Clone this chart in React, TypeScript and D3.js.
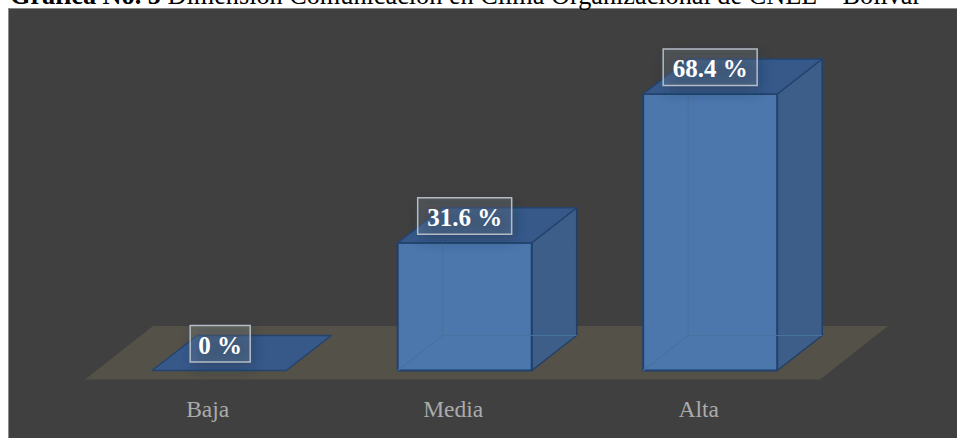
import React from "react";
import * as d3 from "d3";

const categories = ["Baja", "Media", "Alta"];
const values = [0, 31.6, 68.4];
const valueLabels = ["0 %", "31.6 %", "68.4 %"];
const titleBold = "Gráfica No. 5";
const titleRest = " Dimensión Comunicación en Clima Organizacional de CNEL – Bolívar";

const W = 957;
const H = 438;
const DEPTH_X = 45;
const DEPTH_Y = -35;
const FLOOR_Y = 370.5;

// Band positions of the bar fronts along the floor.
const x = d3.scaleBand<string>().domain(categories).range([54, 875.4]).paddingInner(0.454).paddingOuter(0.4);
const y = d3.scaleLinear().domain([0, 68.4]).range([FLOOR_Y, 94]);

const poly = d3.line<[number, number]>().curve(d3.curveLinearClosed);

export default function App() {
  const floor: [number, number][] = [[85, 379.5], [820, 379.5], [888, 326], [153, 326]];
  return (
    <svg width={W} height={H} viewBox={`0 0 ${W} ${H}`} style={{ position: "absolute", left: 0, top: 0, display: "block" }}>
      <defs>
        <filter id="labelShadow" x="-40%" y="-60%" width="180%" height="220%">
          <feGaussianBlur stdDeviation="7" />
        </filter>
      </defs>
      <rect width={W} height={H} fill="#ffffff" />
      <rect x={8.5} y={8.5} width={W} height={H} fill="#404040" stroke="#8c8c8c" />
      <text x={10} y={4} fontFamily="'Liberation Serif', serif" fontSize={26.25} fill="#000">
        <tspan fontWeight="bold">{titleBold}</tspan>
        <tspan>{titleRest}</tspan>
      </text>
      <path d={poly(floor) ?? ""} fill="#545148" />
      {categories.map((c, i) => {
        const x0 = x(c)!;
        const x1 = x0 + x.bandwidth();
        const yTop = y(values[i]);
        const front: [number, number][] = [[x0, yTop], [x1, yTop], [x1, FLOOR_Y], [x0, FLOOR_Y]];
        const side: [number, number][] = [[x1, yTop], [x1 + DEPTH_X, yTop + DEPTH_Y], [x1 + DEPTH_X, FLOOR_Y + DEPTH_Y], [x1, FLOOR_Y]];
        const top: [number, number][] = [[x0, yTop], [x1, yTop], [x1 + DEPTH_X, yTop + DEPTH_Y], [x0 + DEPTH_X, yTop + DEPTH_Y]];
        return (
          <g key={c}>
            {values[i] > 0 && (
              <>
                <path d={poly(side) ?? ""} fill="#3d5e88" stroke="#243f66" strokeWidth={1.5} strokeLinejoin="round" />
                <path d={poly(front) ?? ""} fill="#4b77ad" stroke="#21406b" strokeWidth={2} strokeLinejoin="round" />
                {/* hidden back edges, visible through the translucent front face */}
                <path
                  d={`M${x0},${FLOOR_Y}L${x0 + DEPTH_X},${FLOOR_Y + DEPTH_Y}L${x1 + DEPTH_X},${FLOOR_Y + DEPTH_Y}M${x0 + DEPTH_X},${FLOOR_Y + DEPTH_Y}L${x0 + DEPTH_X},${yTop}`}
                  fill="none"
                  stroke="#47729f"
                  strokeWidth={1.2}
                />
              </>
            )}
            <path d={poly(top) ?? ""} fill="#37598a" stroke="#24436d" strokeWidth={1.5} strokeLinejoin="round" />
          </g>
        );
      })}
      {categories.map((c, i) => {
        const x0 = x(c)!;
        const yTop = y(values[i]);
        const labelW = valueLabels[i].length > 3 ? 94 : 60;
        const labelX = values[i] === 0 ? x0 + 38 : x0 + 20;
        const labelY = yTop - 45;
        return (
          <g key={c}>
            {/* soft shadow under the value label */}
            <rect x={labelX + 3} y={labelY + 6} width={labelW} height={36} fill="#1d2c44" fillOpacity={0.42} filter="url(#labelShadow)" />
            <rect x={labelX} y={labelY} width={labelW} height={36.5} fill="#ffffff" fillOpacity={0.1} stroke="#b4bcc6" strokeWidth={1.5} />
            <text x={labelX + labelW / 2} y={labelY + 28} textAnchor="middle" fontFamily="'Liberation Serif', serif" fontWeight="bold" fontSize={25} fill="#ffffff">
              {valueLabels[i]}
            </text>
            <text x={x0 + 55.5} y={417} textAnchor="middle" fontFamily="'Liberation Serif', serif" fontSize={23.5} fill="#ababab">
              {c}
            </text>
          </g>
        );
      })}
    </svg>
  );
}
